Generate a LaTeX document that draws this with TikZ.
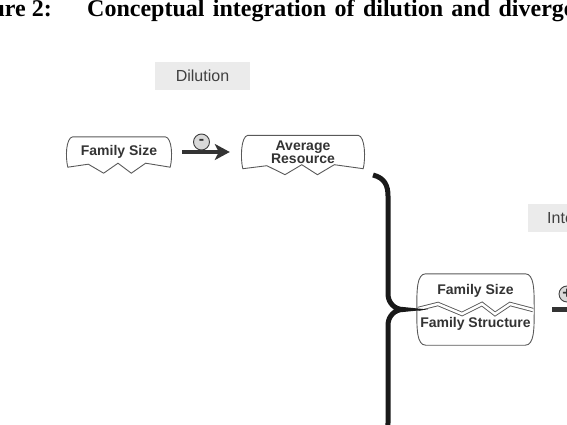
\documentclass[tikz,border=0pt]{standalone}
\usepackage{fontspec}
\setmainfont{Liberation Serif}
\setsansfont{Liberation Sans}
\usetikzlibrary{arrows.meta,calc,positioning}

% outline with a torn lower edge
\newcommand{\tornbox}[1]{%
\draw[outline] (#1.south west) .. controls ($(#1.south west)+(-2.5,-10)$) and ($(#1.north west)+(-2,1)$) .. ($(#1.north west)+(5,0)$)
  -- ($(#1.north east)+(-5,0)$) .. controls ($(#1.north east)+(2,1)$) and ($(#1.south east)+(2.5,-10)$) .. (#1.south east)
  -- ($(#1.south west)!.76!(#1.south east)+(0,-4)$) -- ($(#1.south west)!.62!(#1.south east)+(0,6)$)
  -- ($(#1.south west)!.49!(#1.south east)+(0,-4)$) -- ($(#1.south west)!.35!(#1.south east)+(0,6)$)
  -- ($(#1.south west)!.2!(#1.south east)+(0,-3)$) -- cycle;}

% outline with bulging sides
\newcommand{\barrelbox}[1]{%
\draw[outline] ($(#1.north west)+(7,0)$) -- ($(#1.north east)+(-7,0)$)
  .. controls ($(#1.north east)+(2,0)$) and ($(#1.east)+(2,-20)$) .. ($(#1.east)+(2,0)$)
  .. controls ($(#1.east)+(2,20)$) and ($(#1.south east)+(2,0)$) .. ($(#1.south east)+(-7,0)$)
  -- ($(#1.south west)+(7,0)$)
  .. controls ($(#1.south west)+(-2,0)$) and ($(#1.west)+(-2,20)$) .. ($(#1.west)+(-2,0)$)
  .. controls ($(#1.west)+(-2,-20)$) and ($(#1.north west)+(-2,0)$) .. cycle;}

\begin{document}
\begin{tikzpicture}[x=1pt,y=-1pt,
lbl/.style={font=\sffamily\bfseries\fontsize{14}{13}\selectfont, text=black!80, inner sep=1pt},
phasebox/.style={fill=black!8, minimum width=95pt, minimum height=28pt, font=\sffamily\fontsize{16}{18}\selectfont, text=black!75},
sign/.style={circle, draw=black!75, fill=black!15, line width=.9pt, minimum size=16pt, inner sep=0pt, font=\sffamily\bfseries\fontsize{16}{16}\selectfont, text=black!80},
outline/.style={draw=black!65, line width=.9pt},
effect/.style={draw=black!80, line width=4.5pt, -{Stealth[length=15pt,width=16pt,inset=4pt]}, shorten <=12pt, shorten >=13pt},
brace/.style={draw=black!90, line width=5pt}]
\useasboundingbox (0,0) rectangle (567,425);
\clip (0,0) rectangle (567,425);

\node[anchor=base east, inner sep=0pt, font=\bfseries\fontsize{24}{28}\selectfont] (fignum) at (52,17) {ure 2:};
\node[anchor=base west, inner sep=0pt, font=\bfseries\fontsize{24}{28}\selectfont] (title) at (87,17) {\spaceskip=8.4pt Conceptual integration of dilution and diverge};

\node[phasebox] (dil) at (202.5,76) {Dilution};
\node[phasebox, anchor=west, text width=100pt, align=left, inner xsep=19pt] (integ) at (528,218) {Inte};

\node[lbl, minimum width=102pt, minimum height=30pt] (fs) at (119,152) {Family Size};
\node[lbl, minimum width=120pt, minimum height=33pt, align=center] (ar) at (303,152) {Average\\Resource};
\tornbox{fs}
\tornbox{ar}

\node[minimum width=113pt, minimum height=71pt] (comb) at (475.5,309.5) {};
\node[lbl] (csize) at ($(comb)+(0,-18.5)$) {Family Size};
\node[lbl] (cstruct) at ($(comb)+(0,14)$) {Family Structure};
\barrelbox{comb}
\draw[outline, double=white, double distance=2.5pt] ($(comb)+(-57.5,-.5)$) -- ($(comb)+(-37.5,-5.5)$) -- ($(comb)+(-13.5,4.5)$)
  -- ($(comb)+(6.5,-5.5)$) -- ($(comb)+(19.5,4.5)$) -- ($(comb)+(34.5,-5.5)$) -- ($(comb)+(57.5,.5)$);

\draw[effect] (fs.east) -- (fs.east -| ar.west);
\node[sign] (minus) at (201.5,142) {\raisebox{-2pt}{-}};

\coordinate (offright) at (640,310);
\draw[effect, shorten <=20pt] (comb.east) -- (comb.east -| offright);
\node[sign] (plus) at (567,294) {+};

\draw[brace] (373,175) .. controls (385,178) and (388,186) .. (388,196) -- (388,294)
  .. controls (388,303) and (395,309.5) .. (403,309.5)
  .. controls (395,309.5) and (388,316) .. (388,325) -- (388,423)
  .. controls (388,433) and (385,441) .. (373,444);
\end{tikzpicture}
\end{document}
